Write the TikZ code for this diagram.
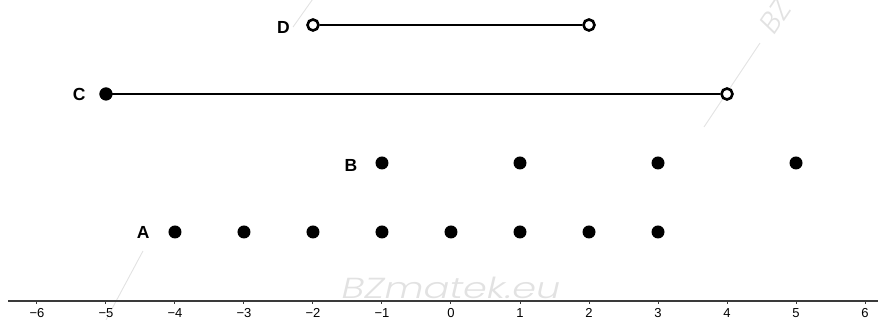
\documentclass[tikz,border=0pt]{standalone}
\usepackage{fontspec}
\setmainfont{Liberation Sans}
\IfFontExistsTF{Poppins Light Italic}
  {\newfontfamily\wmfont{Poppins Light Italic}\newcommand\wmscale{1.32}}
  {\newfontfamily\wmfont{Liberation Sans Italic}\newcommand\wmscale{1.4}}
\definecolor{wm}{HTML}{E2E2E2}
\definecolor{axisc}{HTML}{3A3A3A}
\begin{document}
\begin{tikzpicture}[x=69pt,y=69pt,
  dot/.style={circle,fill=black,inner sep=0pt,minimum size=13pt},
  odot/.style={circle,draw=black,fill=white,line width=2.6pt,inner sep=0pt,minimum size=11pt},
  seg/.style={line width=2.6pt},
  lab/.style={font=\fontsize{17.5}{17.5}\selectfont\bfseries},
  tick/.style={font=\fontsize{13}{13}\selectfont},
  wmline/.style={draw=wm,line width=0.9pt},
  wmtext/.style={text=wm,font=\fontsize{29}{29}\selectfont\wmfont}]
\useasboundingbox (-451/69,-19/69) rectangle (427/69,301/69);
% watermark
\draw[wmline] (3.667,2.522) -- (4.478,3.739);
\draw[wmline] (-4.464,0.725) -- (-5.0,-0.275);
\draw[wmline] (-2.29,3.97) -- (-2.0,4.38);
\node[wmtext,anchor=base,xscale=\wmscale] (wm2) at (0,0.043) {BZmatek.eu};
\node[wmtext,rotate=56,anchor=base west] (wm3) at (4.66,3.8) {BZ};
% axis
\draw[axisc,line width=1.3pt] (-6.42,0) coordinate (axl) -- (6.2,0) coordinate (axr);
\foreach \i in {-6,...,6}{
  \draw[axisc,line width=1pt] (\i,0) -- (\i,-0.05);
  \node[tick,anchor=base] (t\i) at (\i,-0.235) {\ifnum\i<0 −\the\numexpr-\i\relax\else\i\fi};
}
% A
\foreach \i in {-4,...,3}{ \node[dot] (a\i) at (\i,1) {}; }
\node[lab] (A) at (-4.46,1) {A};
% B
\foreach \i in {-1,1,3,5}{ \node[dot] (b\i) at (\i,2) {}; }
\node[lab] (B) at (-1.45,1.96) {B};
% C
\node[dot] (c1) at (-5,3) {};
\node[odot] (c2) at (4,3) {};
\draw[seg] (c1.center) -- (c2);
\node[dot] at (c1) {};
\node[lab] (C) at (-5.39,3) {C};
% D
\node[odot] (d1) at (-2,4) {};
\node[odot] (d2) at (2,4) {};
\draw[seg] (d1) -- (d2);
\node[lab] (D) at (-2.43,3.96) {D};
\end{tikzpicture}
\end{document}
